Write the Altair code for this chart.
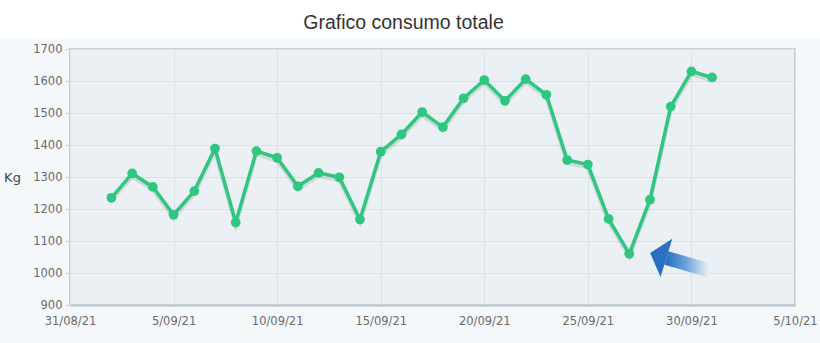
import altair as alt
import pandas as pd

# ---- data ----
dates = pd.date_range("2021-09-02", "2021-10-01", freq="D")
kg = [1235, 1311, 1269, 1182, 1256, 1389, 1158, 1381, 1360, 1271,
      1313, 1299, 1167, 1379, 1433, 1503, 1456, 1546, 1603, 1538,
      1606, 1557, 1353, 1339, 1169, 1060, 1229, 1520, 1630, 1611]

y_ticks = [900, 1000, 1100, 1200, 1300, 1400, 1500, 1600, 1700]
x_tick_days = [(2021, 8, 31), (2021, 9, 5), (2021, 9, 10), (2021, 9, 15),
               (2021, 9, 20), (2021, 9, 25), (2021, 9, 30), (2021, 10, 5)]
title_text = "Grafico consumo totale"

# annotation arrow (in data coordinates): tail -> head base
arrow_dates = [pd.Timestamp("2021-09-30 21:00"), pd.Timestamp("2021-09-28 19:00")]
arrow_vals = [1008, 1047]

df = pd.DataFrame({"date": dates, "kg": kg})
arrow_df = pd.DataFrame({"date": arrow_dates, "kg": arrow_vals})
head_df = arrow_df.iloc[[1]]

xdt = [alt.DateTime(year=y, month=m, date=d) for (y, m, d) in x_tick_days]

x_enc = alt.X(
    "date:T",
    scale=alt.Scale(domain=[xdt[0], xdt[-1]]),
    axis=alt.Axis(values=xdt, format="%-d/%m/%y", title=None, labelPadding=10,
                  tickSize=0, labelFontSize=11.5, labelColor="#6a6a6a",
                  labelFont="DejaVu Sans", domainColor="#c2cad0", domainWidth=2.5,
                  gridColor="#d9e2e8", labelFlush=False, labelOverlap=False),
)
y_enc = alt.Y(
    "kg:Q",
    scale=alt.Scale(domain=[900, 1700], nice=False, zero=False),
    axis=alt.Axis(values=y_ticks, format="d", labelOverlap=False,
                  title="Kg", titleAngle=0, titleX=-58, titleY=128,
                  titleAlign="center", titleBaseline="middle", titleFontSize=13,
                  titleFont="DejaVu Sans", titleFontWeight="normal", titleColor="#444444",
                  labelFontSize=11.5, labelColor="#6a6a6a", labelFont="DejaVu Sans",
                  tickSize=5, tickColor="#c8d0d6", labelPadding=3,
                  domainColor="#dfe6eb", gridColor="#d9e2e8"),
)

one = pd.DataFrame({"t": [title_text]})
band = alt.Chart(one).mark_rect(color="white").encode(
    x=alt.value(-70), x2=alt.value(750), y=alt.value(-49), y2=alt.value(-11)
)
title = alt.Chart(one).mark_text(
    font="Liberation Sans", fontSize=19.5, color="#333333", align="center",
    baseline="alphabetic"
).encode(x=alt.value(333.5), y=alt.value(-20), text="t:N")

shadow = alt.Chart(df).mark_line(color="#000000", opacity=0.10, strokeWidth=4,
                                 yOffset=3).encode(x=x_enc, y=y_enc)
line = alt.Chart(df).mark_line(color="#2fc680", strokeWidth=3.5).encode(x=x_enc, y=y_enc)
points = alt.Chart(df).mark_point(filled=True, color="#2fc680", size=95, opacity=1).encode(
    x=x_enc, y=y_enc)

shaft = alt.Chart(arrow_df).mark_line(
    strokeWidth=14, strokeCap="butt",
    color=alt.Gradient(gradient="linear",
                       stops=[alt.GradientStop(color="#2a6fc0", offset=0),
                              alt.GradientStop(color="#6aa3d8", offset=0.45),
                              alt.GradientStop(color="#eef3f7", offset=1)],
                       x1=0, x2=1, y1=0, y2=0),
).encode(x=x_enc, y=y_enc)
head = alt.Chart(head_df).mark_point(
    filled=True, color="#2a6fc0", opacity=1, size=1600, angle=17,
    shape="M -0.85 0 L 0 -1 L 0 1 Z",
).encode(x=x_enc, y=y_enc)

chart = alt.layer(band, title, shadow, line, points, shaft, head).properties(
    width=725, height=256,
    autosize=alt.AutoSizeParams(type="none"),
    padding={"left": 70, "top": 49, "right": 25, "bottom": 38},
).configure(background="#f4f8fb").configure_view(
    fill="#eaf0f4", stroke="#c6ced4", strokeWidth=2
)

chart.save("out.html", embed_options={"renderer": "svg", "actions": False})
